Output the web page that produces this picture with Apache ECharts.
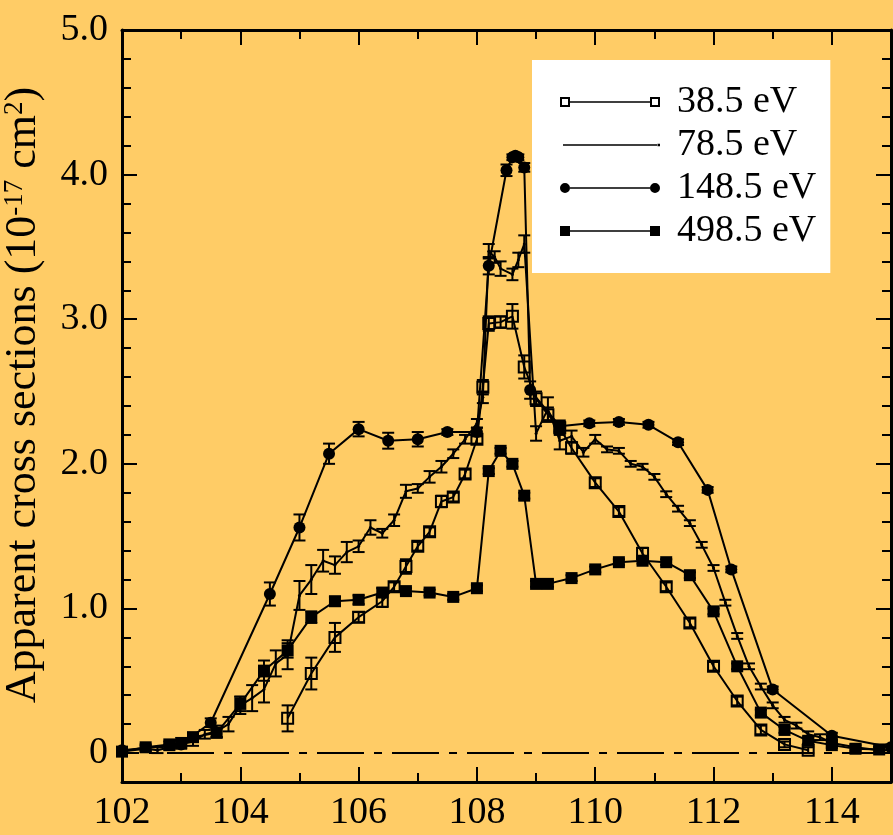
<!DOCTYPE html>
<html>
<head>
<meta charset="utf-8">
<script src="https://cdn.jsdelivr.net/npm/echarts@6/dist/echarts.min.js"></script>
<style>
html, body { margin: 0; padding: 0; background: #FFCC66; }
#main { width: 893px; height: 835px; }
</style>
</head>
<body>
<div id="main"></div>
<script>
// 38.5 eV - open squares
var x38 = [104.8, 105.2, 105.6, 106.0, 106.4, 106.6, 106.8, 107.0, 107.2, 107.4, 107.6, 107.8, 108.0, 108.1, 108.2, 108.4, 108.6, 108.8, 109.0, 109.2, 109.4, 109.6, 110.0, 110.4, 110.8, 111.2, 111.6, 112.0, 112.4, 112.8, 113.2, 113.6];
var y38 = [0.24, 0.55, 0.80, 0.94, 1.05, 1.15, 1.29, 1.43, 1.53, 1.74, 1.77, 1.93, 2.17, 2.53, 2.97, 2.98, 3.02, 2.67, 2.45, 2.34, 2.25, 2.11, 1.87, 1.67, 1.38, 1.15, 0.90, 0.60, 0.36, 0.16, 0.06, 0.02];
var e38 = [0.09, 0.11, 0.10, 0.035, 0.04, 0.03, 0.05, 0.03, 0.03, 0.04, 0.03, 0.03, 0.03, 0.05, 0.05, 0.04, 0.085, 0.08, 0.05, 0.05, 0.05, 0.04, 0.03, 0.03, 0.04, 0.03, 0.03, 0.03, 0.03, 0.03, 0.02, 0.02];

// 78.5 eV - line only
var x78 = [102.0, 102.4, 102.6, 102.8, 103.0, 103.2, 103.4, 103.6, 103.8, 104.0, 104.2, 104.4, 104.6, 104.8, 105.0, 105.2, 105.4, 105.6, 105.8, 106.0, 106.2, 106.4, 106.6, 106.8, 107.0, 107.2, 107.4, 107.6, 107.8, 108.0, 108.1, 108.2, 108.3, 108.4, 108.6, 108.7, 108.8, 109.0, 109.2, 109.4, 109.6, 109.8, 110.0, 110.2, 110.4, 110.6, 110.8, 111.0, 111.2, 111.4, 111.6, 111.8, 112.0, 112.2, 112.4, 112.6, 112.8, 113.0, 113.2, 113.4, 113.6, 113.8, 114.0, 114.4, 114.8];
var y78 = [0.01, 0.03, 0.02, 0.04, 0.06, 0.08, 0.13, 0.15, 0.20, 0.33, 0.38, 0.44, 0.62, 0.68, 1.09, 1.20, 1.33, 1.30, 1.39, 1.43, 1.56, 1.52, 1.61, 1.81, 1.83, 1.91, 1.98, 2.07, 2.17, 2.28, 2.46, 3.47, 3.43, 3.35, 3.31, 3.41, 3.52, 2.21, 2.38, 2.16, 2.19, 2.08, 2.17, 2.10, 2.09, 2.00, 1.98, 1.91, 1.79, 1.69, 1.59, 1.44, 1.28, 1.04, 0.81, 0.60, 0.46, 0.33, 0.23, 0.19, 0.13, 0.11, 0.07, 0.04, 0.02];
var e78 = [0.02, 0.02, 0.02, 0.02, 0.03, 0.03, 0.03, 0.04, 0.05, 0.06, 0.09, 0.09, 0.09, 0.10, 0.10, 0.10, 0.075, 0.06, 0.07, 0.04, 0.05, 0.03, 0.04, 0.045, 0.03, 0.04, 0.04, 0.03, 0.03, 0.03, 0.04, 0.05, 0.04, 0.05, 0.04, 0.05, 0.06, 0.05, 0.08, 0.06, 0.04, 0.03, 0.03, 0.02, 0.02, 0.02, 0.02, 0.02, 0.02, 0.02, 0.02, 0.02, 0.02, 0.02, 0.02, 0.02, 0.02, 0.02, 0.02, 0.02, 0.02, 0.02, 0.02, 0.02, 0.02];

// 148.5 eV - filled circles
var x148 = [102.0, 103.0, 103.5, 104.5, 105.0, 105.5, 106.0, 106.5, 107.0, 107.5, 108.0, 108.2, 108.5, 108.6, 108.65, 108.7, 108.8, 108.9, 109.4, 109.9, 110.4, 110.9, 111.4, 111.9, 112.3, 113.0, 114.0, 115.0];
var y148 = [0.02, 0.06, 0.21, 1.10, 1.56, 2.07, 2.24, 2.16, 2.17, 2.22, 2.22, 3.37, 4.03, 4.12, 4.13, 4.12, 4.05, 2.51, 2.26, 2.28, 2.29, 2.27, 2.15, 1.82, 1.27, 0.44, 0.12, 0.04];
var e148 = [0.02, 0.02, 0.03, 0.08, 0.09, 0.07, 0.05, 0.055, 0.05, 0.02, 0.03, 0.06, 0.04, 0.02, 0.02, 0.02, 0.03, 0.06, 0.03, 0.02, 0.02, 0.02, 0.02, 0.02, 0.02, 0.02, 0.02, 0.02];

// 498.5 eV - filled squares
var x498 = [102.0, 102.4, 102.8, 103.0, 103.2, 103.6, 104.0, 104.4, 104.8, 105.2, 105.6, 106.0, 106.4, 106.8, 107.2, 107.6, 108.0, 108.2, 108.4, 108.6, 108.8, 109.0, 109.2, 109.6, 110.0, 110.4, 110.8, 111.2, 111.6, 112.0, 112.4, 112.8, 113.2, 113.6, 114.0, 114.4, 114.8];
var y498 = [0.01, 0.04, 0.06, 0.07, 0.11, 0.14, 0.34, 0.57, 0.71, 0.94, 1.05, 1.06, 1.11, 1.12, 1.11, 1.08, 1.14, 1.95, 2.09, 2.00, 1.78, 1.17, 1.17, 1.21, 1.27, 1.32, 1.33, 1.32, 1.23, 0.98, 0.60, 0.28, 0.16, 0.085, 0.055, 0.03, 0.025];
var e498 = [0.02, 0.02, 0.02, 0.02, 0.03, 0.03, 0.05, 0.07, 0.05, 0.04, 0.03, 0.03, 0.03, 0.02, 0.02, 0.02, 0.02, 0.02, 0.02, 0.02, 0.02, 0.02, 0.02, 0.02, 0.02, 0.02, 0.02, 0.02, 0.02, 0.02, 0.02, 0.02, 0.02, 0.02, 0.02, 0.02, 0.02];

// dashed zero line: [xStart, xEnd, y]
var zeroLine = [[102, 115, 0]];

// ticks / labels
var xMinorTicks = [102, 103, 104, 105, 106, 107, 108, 109, 110, 111, 112, 113, 114, 115];
var xMajorTicks = [102, 104, 106, 108, 110, 112, 114];
var yMajorTicks = [0, 1, 2, 3, 4, 5];
var yMinorTicks = [-0.2, 0, 0.2, 0.4, 0.6, 0.8, 1.0, 1.2, 1.4, 1.6, 1.8, 2.0, 2.2, 2.4, 2.6, 2.8, 3.0, 3.2, 3.4, 3.6, 3.8, 4.0, 4.2, 4.4, 4.6, 4.8, 5.0];

var FONT = '"Liberation Serif", "Times New Roman", serif';

function zip(xs, ys) {
    var out = [];
    for (var i = 0; i < xs.length; i++) out.push([xs[i], ys[i]]);
    return out;
}
function zip3(xs, ys, es) {
    var out = [];
    for (var i = 0; i < xs.length; i++) out.push([xs[i], ys[i], es[i]]);
    return out;
}

function errItem(params, api) {
    var x = api.value(0), y = api.value(1), e = api.value(2);
    var lo = api.coord([x, y - e]);
    var hi = api.coord([x, y + e]);
    var w = 6;
    return {
        type: 'group',
        children: [
            {type: 'line', shape: {x1: lo[0], y1: lo[1], x2: hi[0], y2: hi[1]}, style: {stroke: '#000', lineWidth: 2}},
            {type: 'line', shape: {x1: lo[0] - w, y1: lo[1], x2: lo[0] + w, y2: lo[1]}, style: {stroke: '#000', lineWidth: 2}},
            {type: 'line', shape: {x1: hi[0] - w, y1: hi[1], x2: hi[0] + w, y2: hi[1]}, style: {stroke: '#000', lineWidth: 2}}
        ]
    };
}

function errSeries(xs, ys, es) {
    return {
        type: 'custom',
        renderItem: errItem,
        data: zip3(xs, ys, es),
        encode: {x: 0, y: 1},
        silent: true,
        z: 2
    };
}

function xAxisDef(pos, ticks, len, showLine, labels) {
    return {
        type: 'value', position: pos, min: 102, max: 115,
        axisLine: {show: showLine, onZero: false, lineStyle: {color: '#000', width: 3}},
        axisTick: {show: true, inside: true, length: len, customValues: ticks, lineStyle: {color: '#000', width: 2}},
        axisLabel: labels ? {show: true, customValues: labels, margin: 12, color: '#000', fontFamily: FONT, fontSize: 38} : {show: false},
        splitLine: {show: false}
    };
}
function yAxisDef(pos, ticks, len, showLine, labels) {
    var ax = {
        type: 'value', position: pos, min: -0.2, max: 5.0,
        axisLine: {show: showLine, onZero: false, lineStyle: {color: '#000', width: 3}},
        axisTick: {show: true, inside: true, length: len, customValues: ticks, lineStyle: {color: '#000', width: 2}},
        axisLabel: {show: false},
        splitLine: {show: false}
    };
    if (labels) {
        ax.axisLabel = {
            show: true, customValues: labels, margin: 14, color: '#000', fontFamily: FONT, fontSize: 38,
            formatter: function (v) { return v === 0 ? '0' : v.toFixed(1); }
        };
        ax.name = '{a|Apparent cross sections (10}{s|-17}{a| cm}{s|2}{a|)}';
        ax.nameLocation = 'middle';
        ax.nameGap = 66;
        ax.nameTextStyle = {
            padding: [0, 0, 0, 22],
            rich: {
                a: {fontFamily: FONT, fontSize: 44, lineHeight: 44, color: '#000', verticalAlign: 'bottom'},
                s: {fontFamily: FONT, fontSize: 27, lineHeight: 27, color: '#000', verticalAlign: 'top', padding: [0, 0, 21, 0]}
            }
        };
    }
    return ax;
}

var chart = echarts.init(document.getElementById('main'), null, {renderer: 'canvas'});

var option = {
    backgroundColor: '#FFCC66',
    animation: false,
    grid: {left: 122, top: 30, right: 2, bottom: 53, containLabel: false, outerBoundsMode: 'none'},
    xAxis: [
        xAxisDef('bottom', xMinorTicks, 9, true, xMajorTicks),
        xAxisDef('bottom', xMajorTicks, 15, false, null),
        xAxisDef('top', xMinorTicks, 9, true, null),
        xAxisDef('top', xMajorTicks, 15, false, null)
    ],
    yAxis: [
        yAxisDef('left', yMinorTicks, 9, true, yMajorTicks),
        yAxisDef('left', yMajorTicks, 15, false, null),
        yAxisDef('right', yMinorTicks, 9, true, null),
        yAxisDef('right', yMajorTicks, 15, false, null)
    ],
    legend: {
        orient: 'vertical',
        left: 532, top: 60,
        padding: [23, 14, 23, 28],
        backgroundColor: '#fff',
        itemWidth: 100, itemHeight: 10, itemGap: 5,
        selectedMode: false,
        textStyle: {fontFamily: FONT, fontSize: 38, color: '#000', padding: [0, 0, 0, 12]},
        data: [
            {name: '38.5 eV', icon: 'path://M0,0H10V10H0Z M2,2V8H8V2Z M90,0H100V10H90Z M92,2V8H98V2Z M10,4.3H90V5.7H10Z', itemStyle: {color: '#000', borderWidth: 0}},
            {name: '78.5 eV', icon: 'path://M0,0H0.1V0.1H0Z M3,4.2H97V5.8H3Z M97.5,3.8H100V6.2H97.5Z M0,9.9H0.1V10H0Z', itemStyle: {color: '#000', borderWidth: 0}},
            {name: '148.5 eV', icon: 'path://M0,5A5,5 0 1,1 10,5A5,5 0 1,1 0,5Z M90,5A5,5 0 1,1 100,5A5,5 0 1,1 90,5Z M10,4.3H90V5.7H10Z', itemStyle: {color: '#000', borderWidth: 0}},
            {name: '498.5 eV', icon: 'path://M0,0H10V10H0Z M90,0H100V10H90Z M10,4.3H90V5.7H10Z', itemStyle: {color: '#000', borderWidth: 0}}
        ]
    },
    series: [
        {
            type: 'custom',
            data: zeroLine,
            encode: {x: [0, 1], y: 2},
            silent: true,
            clip: false,
            z: 2,
            renderItem: function (params, api) {
                var a = api.coord([api.value(0), api.value(2)]);
                var b = api.coord([api.value(1), api.value(2)]);
                return {
                    type: 'line',
                    shape: {x1: a[0], y1: a[1], x2: b[0], y2: b[1]},
                    style: {stroke: '#000', lineWidth: 2, lineDash: [47, 10, 8, 10], lineDashOffset: 30}
                };
            }
        },
        {
            name: '38.5 eV', type: 'line', data: zip(x38, y38),
            symbol: 'rect', symbolSize: 11,
            itemStyle: {color: 'rgba(0,0,0,0)', borderColor: '#000', borderWidth: 2},
            lineStyle: {color: '#000', width: 2}, z: 3
        },
        {
            name: '78.5 eV', type: 'line', data: zip(x78, y78),
            symbol: 'circle', symbolSize: 3,
            itemStyle: {color: '#000'},
            lineStyle: {color: '#000', width: 2}, z: 3
        },
        {
            name: '148.5 eV', type: 'line', data: zip(x148, y148),
            symbol: 'circle', symbolSize: 12,
            itemStyle: {color: '#000'},
            lineStyle: {color: '#000', width: 2}, z: 3
        },
        {
            name: '498.5 eV', type: 'line', data: zip(x498, y498),
            symbol: 'rect', symbolSize: 12,
            itemStyle: {color: '#000'},
            lineStyle: {color: '#000', width: 2}, z: 3
        },
        errSeries(x38, y38, e38),
        errSeries(x78, y78, e78),
        errSeries(x148, y148, e148),
        errSeries(x498, y498, e498)
    ]
};

chart.setOption(option);
</script>
</body>
</html>
